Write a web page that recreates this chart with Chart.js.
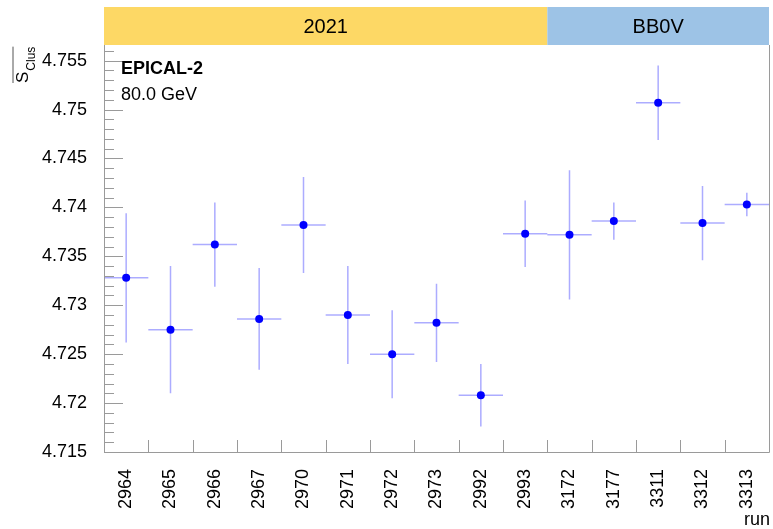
<!DOCTYPE html>
<html>
<head>
<meta charset="utf-8">
<script src="https://cdn.jsdelivr.net/npm/chart.js@4/dist/chart.umd.min.js"></script>
<style>
  html, body { margin: 0; padding: 0; background: #fff; }
  #wrap { width: 773px; height: 529px; }
</style>
</head>
<body>
<div id="wrap"><canvas id="c"></canvas></div>
<script>
// run numbers (categories)
const runs = ['2964', '2965', '2966', '2967', '2970', '2971', '2972', '2973',
              '2992', '2993', '3172', '3177', '3311', '3312', '3313'];
// mean cluster size and its error
const sMean = [4.7328, 4.7275, 4.7362, 4.7286, 4.7382, 4.7290, 4.7250, 4.7282,
               4.7208, 4.7373, 4.7372, 4.7386, 4.7507, 4.7384, 4.7403];
const sErr  = [0.0066, 0.0065, 0.0043, 0.0052, 0.0049, 0.0050, 0.0045, 0.0040,
               0.0032, 0.0034, 0.0066, 0.0019, 0.0038, 0.0038, 0.0012];
// run periods shown in the top banner
const periods      = ['2021', 'BB0V'];
const periodRuns   = [10, 5];
const periodColors = ['#fdd865', '#9dc3e6'];
// y axis labels
const yTicks = [4.715, 4.72, 4.725, 4.73, 4.735, 4.74, 4.745, 4.75, 4.755];

const FONT = "'Liberation Sans', Arial, Helvetica, sans-serif";
const AXIS_GRAY = '#9a9a9a';

/* ---- error bars: full bin in x, +-err in y ---- */
const errorBars = {
    id: 'errorBars',
    beforeDatasetsDraw(chart) {
        const { ctx, scales: { x, y } } = chart;
        const half = (x.getPixelForValue(1) - x.getPixelForValue(0)) / 2;
        ctx.save();
        ctx.strokeStyle = 'rgba(70,70,255,0.45)';
        ctx.lineWidth = 1.5;
        sMean.forEach((v, i) => {
            const px = x.getPixelForValue(i);
            const py = y.getPixelForValue(v);
            ctx.beginPath();
            ctx.moveTo(px - half, py);
            ctx.lineTo(px + half, py);
            ctx.moveTo(px, y.getPixelForValue(v + sErr[i]));
            ctx.lineTo(px, y.getPixelForValue(v - sErr[i]));
            ctx.stroke();
        });
        ctx.restore();
    }
};

/* ---- ROOT-like frame, inner ticks, banner and texts ---- */
const decorations = {
    id: 'decorations',
    afterDraw(chart) {
        const { ctx, chartArea: a, scales: { x, y } } = chart;
        ctx.save();

        // banner
        const half = (x.getPixelForValue(1) - x.getPixelForValue(0)) / 2;
        let start = 0;
        periods.forEach((p, k) => {
            const x0 = k === 0 ? a.left : x.getPixelForValue(start) - half;
            const x1 = k === periods.length - 1 ? a.right : x.getPixelForValue(start + periodRuns[k] - 1) + half;
            ctx.fillStyle = periodColors[k];
            ctx.fillRect(x0, 7, x1 - x0, a.top - 7);
            ctx.fillStyle = '#000';
            ctx.font = `20px ${FONT}`;
            ctx.textAlign = 'center';
            ctx.textBaseline = 'middle';
            ctx.fillText(p, (x0 + x1) / 2, 27);
            start += periodRuns[k];
        });

        // frame
        ctx.strokeStyle = AXIS_GRAY;
        ctx.lineWidth = 1;
        ctx.beginPath();
        ctx.moveTo(a.left + 0.5, a.top);
        ctx.lineTo(a.left + 0.5, a.bottom + 0.5);
        ctx.lineTo(a.right + 0.5, a.bottom + 0.5);
        ctx.lineTo(a.right + 0.5, a.top);
        ctx.stroke();

        // y ticks: major + 4 minor per step
        ctx.beginPath();
        const step = yTicks[1] - yTicks[0];
        for (let k = 0; k < yTicks.length; k++) {
            const py = Math.round(y.getPixelForValue(yTicks[k])) + 0.5;
            ctx.moveTo(a.left, py);
            ctx.lineTo(a.left + 19, py);
            for (let m = 1; m < 5; m++) {
                const v = yTicks[k] + m * step / 5;
                if (v > y.max) break;
                const pm = Math.round(y.getPixelForValue(v)) + 0.5;
                ctx.moveTo(a.left, pm);
                ctx.lineTo(a.left + 10, pm);
            }
        }
        // x ticks at bin edges
        for (let i = 0; i < runs.length - 1; i++) {
            const px = Math.round(x.getPixelForValue(i) + half) + 0.5;
            ctx.moveTo(px, a.bottom);
            ctx.lineTo(px, a.bottom - 12);
        }
        ctx.stroke();

        // labels inside the frame
        ctx.fillStyle = '#000';
        ctx.textAlign = 'left';
        ctx.textBaseline = 'alphabetic';
        ctx.font = `bold 18px ${FONT}`;
        ctx.fillText('EPICAL-2', 121, 74);
        ctx.font = `18px ${FONT}`;
        ctx.fillText('80.0 GeV', 121, 100);

        // x title
        ctx.textAlign = 'right';
        ctx.fillText('run', a.right + 1, 525);

        // y title: overlined S_Clus, rotated
        ctx.translate(28, 83);
        ctx.rotate(-Math.PI / 2);
        ctx.textAlign = 'left';
        ctx.font = `17px ${FONT}`;
        ctx.fillText('S', 0, 0);
        const sw = ctx.measureText('S').width;
        ctx.font = `12px ${FONT}`;
        ctx.fillText('Clus', sw + 1, 7);
        const cw = ctx.measureText('Clus').width;
        ctx.strokeStyle = '#555';
        ctx.beginPath();
        ctx.moveTo(0, -15);
        ctx.lineTo(sw + 1 + cw, -15);
        ctx.stroke();

        ctx.restore();
    }
};

new Chart(document.getElementById('c'), {
    type: 'line',
    data: {
        labels: runs,
        datasets: [{
            data: sMean,
            showLine: false,
            pointRadius: 4,
            pointHoverRadius: 4,
            pointBackgroundColor: '#0000ff',
            pointBorderColor: '#0000ff',
            pointBorderWidth: 0
        }]
    },
    options: {
        responsive: true,
        maintainAspectRatio: false,
        animation: false,
        events: [],
        layout: { padding: { top: 45, right: 4, left: 0, bottom: 0 } },
        plugins: {
            legend: { display: false },
            title: { display: false },
            tooltip: { enabled: false }
        },
        scales: {
            x: {
                type: 'category',
                offset: true,
                grid: { display: false },
                border: { display: false },
                ticks: {
                    minRotation: 90,
                    maxRotation: 90,
                    autoSkip: false,
                    padding: 9,
                    color: '#000',
                    font: { family: FONT, size: 18 }
                },
                afterFit: s => { s.height = 77; s.paddingLeft = 0; s.paddingRight = 0; }
            },
            y: {
                min: 4.715,
                max: 4.7566,
                grid: { display: false },
                border: { display: false },
                afterBuildTicks: s => { s.ticks = yTicks.map(v => ({ value: v })); },
                ticks: {
                    padding: 9,
                    color: '#000',
                    font: { family: FONT, size: 18 },
                    callback: v => String(parseFloat(v.toFixed(3)))
                },
                afterFit: s => { s.width = 104; s.paddingTop = 0; s.paddingBottom = 0; }
            }
        }
    },
    plugins: [errorBars, decorations]
});
</script>
</body>
</html>
